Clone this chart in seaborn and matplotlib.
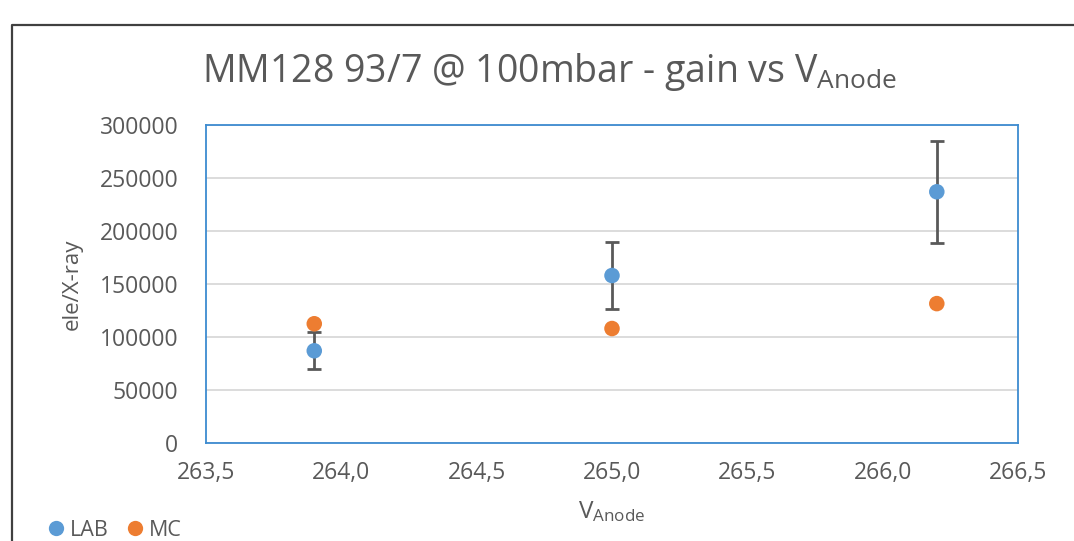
import matplotlib
matplotlib.use("Agg")
import matplotlib.pyplot as plt
from matplotlib.lines import Line2D
from matplotlib.ticker import FuncFormatter, MultipleLocator
import seaborn as sns
import pandas as pd

# Anode voltage settings and measured / simulated gains
v_anode = [263.9, 265.0, 266.2]
gain_lab = [87000, 158000, 237000]
gain_lab_err = [17500, 32000, 48000]
gain_mc = [112500, 108000, 131500]
series_names = ["LAB", "MC"]
series_colors = ["#5B9BD5", "#ED7D31"]

df = pd.DataFrame({
    "V": v_anode * 2,
    "gain": gain_lab + gain_mc,
    "series": [series_names[0]] * 3 + [series_names[1]] * 3,
})

sns.set_theme(style="white")
plt.rcParams["font.family"] = ["Open Sans", "DejaVu Sans"]
plt.rcParams["mathtext.default"] = "regular"

text_color = "#595959"
fig = plt.figure(figsize=(10.74, 5.41), dpi=100)
ax = fig.add_axes([206 / 1074, 1 - 443 / 541, (1018 - 206) / 1074, (443 - 125) / 541])

ax.errorbar(v_anode, gain_lab, yerr=gain_lab_err, fmt="none", ecolor="#595959",
            elinewidth=2, capsize=5, capthick=2, zorder=2)
sns.scatterplot(data=df, x="V", y="gain", hue="series", palette=series_colors,
                s=125, edgecolor="none", legend=False, ax=ax, zorder=3)

ax.set_xlim(263.5, 266.5)
ax.set_ylim(0, 300000)
ax.xaxis.set_major_locator(MultipleLocator(0.5))
ax.yaxis.set_major_locator(MultipleLocator(50000))
ax.xaxis.set_major_formatter(FuncFormatter(lambda v, p: f"{v:.1f}".replace(".", ",")))
ax.yaxis.set_major_formatter(FuncFormatter(lambda v, p: f"{int(round(v))}"))
ax.tick_params(axis="both", length=0, labelsize=16.5, labelcolor=text_color)
ax.tick_params(axis="x", pad=13)
ax.tick_params(axis="y", pad=20)

ax.grid(axis="y", color="#D9D9D9", linewidth=1.3)
ax.grid(axis="x", visible=False)
ax.set_axisbelow(True)
for sp in ax.spines.values():
    sp.set_visible(True)
    sp.set_color("#3D8BD0")
    sp.set_linewidth(1.3)

ax.set_xlabel("$V_{Anode}$", fontsize=17.5, color=text_color, labelpad=10)
ax.set_ylabel("ele/X-ray", fontsize=16, color=text_color, labelpad=12)

fig.text(549 / 1074, 1 - 72 / 541, "MM128 93/7 @ 100mbar - gain vs $V_{Anode}$",
         ha="center", va="center", fontsize=27, color=text_color)

# Outer chart frame
fig.add_artist(Line2D([12 / 1074, 12 / 1074, 1.0], [0.0, 1 - 25 / 541, 1 - 25 / 541],
                      transform=fig.transFigure, color="#404040", linewidth=1.6))

handles = [Line2D([], [], marker="o", linestyle="none", markersize=11,
                  markerfacecolor=c, markeredgecolor="none") for c in series_colors]
fig.legend(handles, series_names, loc="center left", bbox_to_anchor=(37 / 1074, 1 - 530 / 541),
           ncol=2, frameon=False, fontsize=15.5, labelcolor=text_color,
           handletextpad=0.15, columnspacing=0.7, handlelength=1.0, borderaxespad=0)

fig.savefig("out.png", dpi=100)
